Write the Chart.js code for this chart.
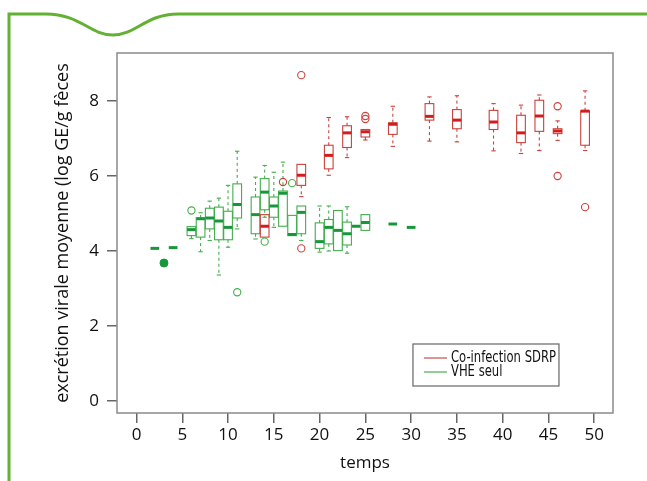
<!DOCTYPE html>
<html>
<head>
<meta charset="utf-8">
<script src="https://cdn.jsdelivr.net/npm/chart.js@4.4.1/dist/chart.umd.min.js"></script>
<style>
  html, body { margin: 0; padding: 0; background: #fff; }
  #wrap { width: 647px; height: 481px; }
</style>
</head>
<body>
<div id="wrap"><canvas id="chart" width="647" height="481"></canvas></div>
<script>
// axes
const xTicks = [0, 5, 10, 15, 20, 25, 30, 35, 40, 45, 50];
const yTicks = [0, 2, 4, 6, 8];

// VHE seul (green)
const vheTemps = [2, 4, 6, 7, 8, 9, 10, 11, 13, 14, 15, 16, 17, 18, 20, 21, 22, 23, 24, 25, 28, 30];
const vheMin = [4.07, 4.09, 4.33, 3.98, 4.28, 3.36, 4.10, 4.59, 4.32, 4.90, 4.63, 4.66, 4.41, 4.28, 3.97, 4.00, 4.01, 3.94, 4.66, 4.55, 4.72, 4.63];
const vheQ1  = [4.07, 4.09, 4.41, 4.37, 4.59, 4.30, 4.30, 4.88, 4.46, 5.10, 4.90, 4.66, 4.41, 4.46, 4.07, 4.19, 4.01, 4.16, 4.66, 4.55, 4.72, 4.63];
const vheMed = [4.07, 4.09, 4.57, 4.86, 4.88, 4.80, 4.63, 5.24, 4.97, 5.57, 5.20, 5.54, 4.44, 5.03, 4.25, 4.63, 4.55, 4.46, 4.66, 4.76, 4.72, 4.63];
const vheQ3  = [4.07, 4.09, 4.65, 4.88, 5.14, 5.17, 5.06, 5.79, 5.44, 5.93, 5.44, 5.60, 4.95, 5.20, 4.75, 4.84, 5.08, 4.77, 4.66, 4.97, 4.72, 4.63];
const vheMax = [4.07, 4.09, 4.65, 5.02, 5.33, 5.41, 5.75, 6.66, 5.97, 6.28, 6.10, 6.37, 4.95, 5.20, 5.20, 5.20, 5.08, 5.18, 4.66, 4.97, 4.72, 4.63];
const vheOutX = [6, 11, 14, 17];
const vheOutY = [5.08, 2.90, 4.25, 5.81];
const vhePointX = [3];
const vhePointY = [3.68];

// Co-infection SDRP (red)
const sdrpTemps = [14, 18, 21, 23, 25, 28, 32, 35, 39, 42, 44, 46, 49];
const sdrpMin = [4.37, 5.45, 6.02, 6.49, 6.96, 6.79, 6.93, 6.91, 6.67, 6.60, 6.68, 6.95, 6.68];
const sdrpQ1  = [4.37, 5.75, 6.19, 6.76, 7.04, 7.11, 7.49, 7.26, 7.24, 6.89, 7.19, 7.13, 6.82];
const sdrpMed = [4.66, 6.02, 6.55, 7.15, 7.18, 7.38, 7.59, 7.49, 7.44, 7.15, 7.60, 7.20, 7.73];
const sdrpQ3  = [4.97, 6.31, 6.82, 7.34, 7.24, 7.42, 7.93, 7.77, 7.75, 7.62, 8.02, 7.26, 7.74];
const sdrpMax = [4.97, 6.31, 7.56, 7.58, 7.24, 7.86, 8.11, 8.14, 7.93, 7.89, 8.16, 7.47, 8.27];
const sdrpOutX = [16, 18, 18, 25, 25, 46, 46, 49];
const sdrpOutY = [5.84, 8.69, 4.07, 7.60, 7.52, 7.86, 6.00, 5.17];

const legendLabels = ['Co-infection SDRP', 'VHE seul'];

const RED = '#c9423c', RED_MED = '#d41c1c', RED_LEG = '#d98a86';
const GREEN = '#45ad4e', GREEN_MED = '#17973a', GREEN_LEG = '#86c98a';
const BOX_W = 0.95;

function drawBoxes(chart, temps, lo, q1, med, q3, hi, col, medCol) {
  const ctx = chart.ctx;
  const xs = chart.scales.x, ys = chart.scales.y;
  const half = (xs.getPixelForValue(BOX_W) - xs.getPixelForValue(0)) / 2;
  temps.forEach((t, i) => {
    const cx = xs.getPixelForValue(t);
    const yLo = ys.getPixelForValue(lo[i]);
    const yQ1 = ys.getPixelForValue(q1[i]);
    const yMed = ys.getPixelForValue(med[i]);
    const yQ3 = ys.getPixelForValue(q3[i]);
    const yHi = ys.getPixelForValue(hi[i]);
    ctx.save();
    ctx.strokeStyle = col;
    ctx.lineWidth = 1.1;
    // whiskers
    ctx.setLineDash([3, 3]);
    if (hi[i] > q3[i]) {
      ctx.beginPath(); ctx.moveTo(cx, yQ3); ctx.lineTo(cx, yHi); ctx.stroke();
    }
    if (lo[i] < q1[i]) {
      ctx.beginPath(); ctx.moveTo(cx, yQ1); ctx.lineTo(cx, yLo); ctx.stroke();
    }
    ctx.setLineDash([]);
    if (hi[i] > q3[i]) {
      ctx.beginPath(); ctx.moveTo(cx - half / 2, yHi); ctx.lineTo(cx + half / 2, yHi); ctx.stroke();
    }
    if (lo[i] < q1[i]) {
      ctx.beginPath(); ctx.moveTo(cx - half / 2, yLo); ctx.lineTo(cx + half / 2, yLo); ctx.stroke();
    }
    // box
    if (q3[i] > q1[i]) {
      ctx.strokeRect(cx - half, yQ3, half * 2, yQ1 - yQ3);
    }
    // median
    ctx.strokeStyle = medCol;
    ctx.lineWidth = 3;
    ctx.beginPath(); ctx.moveTo(cx - half, yMed); ctx.lineTo(cx + half, yMed); ctx.stroke();
    ctx.restore();
  });
}

const boxPlugin = {
  id: 'boxes',
  beforeDraw(chart) {
    // page frame
    const ctx = chart.ctx;
    ctx.save();
    ctx.strokeStyle = '#62b133';
    ctx.lineWidth = 3;
    ctx.beginPath();
    ctx.moveTo(9, 481);
    ctx.lineTo(9, 14);
    ctx.lineTo(46, 14);
    ctx.bezierCurveTo(80, 14, 90, 35, 113, 35);
    ctx.bezierCurveTo(136, 35, 146, 14, 178, 14);
    ctx.lineTo(647, 14);
    ctx.stroke();
    ctx.restore();
  },
  beforeDatasetsDraw(chart) {
    const a = chart.chartArea, ctx = chart.ctx;
    ctx.save();
    ctx.strokeStyle = '#8a8a8a';
    ctx.lineWidth = 1.5;
    ctx.strokeRect(a.left, a.top, a.right - a.left, a.bottom - a.top);
    ctx.restore();
    drawBoxes(chart, vheTemps, vheMin, vheQ1, vheMed, vheQ3, vheMax, GREEN, GREEN_MED);
    drawBoxes(chart, sdrpTemps, sdrpMin, sdrpQ1, sdrpMed, sdrpQ3, sdrpMax, RED, RED_MED);
  },
  afterDraw(chart) {
    // legend box
    const ctx = chart.ctx;
    const xs = chart.scales.x, ys = chart.scales.y;
    const lx = xs.getPixelForValue(30.2), ly = ys.getPixelForValue(1.52);
    const lw = 146, lh = 42;
    ctx.save();
    ctx.fillStyle = '#fff';
    ctx.fillRect(lx, ly, lw, lh);
    ctx.strokeStyle = '#666';
    ctx.lineWidth = 1.2;
    ctx.strokeRect(lx, ly, lw, lh);
    const cols = [RED_LEG, GREEN_LEG];
    ctx.font = '15px "Liberation Sans Narrow", "DejaVu Sans Condensed", sans-serif';
    ctx.textBaseline = 'middle';
    // squeeze text to the narrow width of the original
    const w0 = ctx.measureText(legendLabels[0]).width;
    const sx = Math.min(1, 105 / w0);
    legendLabels.forEach((lab, i) => {
      const yy = ly + 14 + i * 14;
      ctx.strokeStyle = cols[i];
      ctx.lineWidth = 1.8;
      ctx.beginPath(); ctx.moveTo(lx + 11, yy); ctx.lineTo(lx + 34, yy); ctx.stroke();
      ctx.save();
      ctx.translate(lx + 38, yy);
      ctx.scale(sx, 1);
      ctx.fillStyle = '#111';
      ctx.fillText(lab, 0, 0);
      ctx.restore();
    });
    ctx.restore();
  }
};

const tickFont = { family: '"Open Sans", sans-serif', size: 17 };
const yTitleFont = { family: '"Open Sans", sans-serif', size: 18 };

new Chart(document.getElementById('chart'), {
  type: 'scatter',
  data: {
    datasets: [
      {
        label: 'VHE seul points',
        data: vhePointX.map((x, i) => ({ x: x, y: vhePointY[i] })),
        pointRadius: 4,
        pointBackgroundColor: GREEN_MED,
        pointBorderColor: GREEN_MED,
        pointBorderWidth: 1
      },
      {
        label: 'VHE seul outliers',
        data: vheOutX.map((x, i) => ({ x: x, y: vheOutY[i] })),
        pointRadius: 3.6,
        pointBackgroundColor: 'rgba(255,255,255,0)',
        pointBorderColor: GREEN,
        pointBorderWidth: 1.1
      },
      {
        label: 'Co-infection SDRP outliers',
        data: sdrpOutX.map((x, i) => ({ x: x, y: sdrpOutY[i] })),
        pointRadius: 3.6,
        pointBackgroundColor: 'rgba(255,255,255,0)',
        pointBorderColor: RED,
        pointBorderWidth: 1.1
      }
    ]
  },
  options: {
    responsive: false,
    animation: false,
    devicePixelRatio: 1,
    layout: { padding: { top: 53, right: 34, left: 0, bottom: 0 } },
    plugins: {
      legend: { display: false },
      tooltip: { enabled: false }
    },
    scales: {
      x: {
        type: 'linear',
        min: -2.13,
        max: 52.05,
        afterBuildTicks: (s) => { s.ticks = xTicks.map(v => ({ value: v })); },
        afterFit: (s) => { s.height = 68; },
        grid: { display: true, drawOnChartArea: false, drawTicks: true, tickLength: 10, color: '#666', lineWidth: 1.5 },
        border: { display: false },
        ticks: { font: tickFont, color: '#111', padding: 2, maxRotation: 0 },
        title: { display: true, text: 'temps', font: tickFont, color: '#111', padding: { top: 0, bottom: 8 } }
      },
      y: {
        type: 'linear',
        min: -0.32,
        max: 9.28,
        afterBuildTicks: (s) => { s.ticks = yTicks.map(v => ({ value: v })); },
        afterFit: (s) => { s.width = 117; },
        grid: { display: true, drawOnChartArea: false, drawTicks: true, tickLength: 10, color: '#666', lineWidth: 1.5 },
        border: { display: false },
        ticks: { font: tickFont, color: '#111', padding: 8 },
        title: { display: true, text: 'excrétion virale moyenne (log GE/g fèces', font: yTitleFont, color: '#111', padding: { top: 52, bottom: 0 } }
      }
    }
  },
  plugins: [boxPlugin]
});
</script>
</body>
</html>
